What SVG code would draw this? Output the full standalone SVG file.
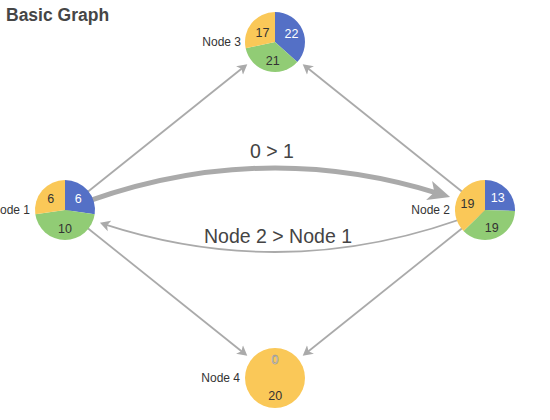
<svg xmlns="http://www.w3.org/2000/svg" width="550" height="420" viewBox="0 0 550 420">
<style>
  .title { font-family: "Liberation Sans", Arial, sans-serif; font-size: 17.5px; font-weight: bold; fill: #464646; }
  .nlabel { font-family: "Liberation Sans", Arial, sans-serif; font-size: 12px; fill: #333; text-anchor: end; }
  .plabel { font-family: "Liberation Sans", Arial, sans-serif; font-size: 12.5px; text-anchor: middle; }
  .dark { fill: #333; }
  .light { fill: #fff; }
  .elabel { font-family: "Liberation Sans", Arial, sans-serif; font-size: 19.5px; fill: #444; text-anchor: middle; }
  .edge { fill: none; stroke: #aaa; stroke-width: 1.8; }
  .edge-thick { fill: none; stroke: #aaa; stroke-width: 5; }
  .blue { fill: #5470c6; }
  .green { fill: #91cc75; }
  .yellow { fill: #fac858; }
</style>
<defs>
  <marker id="arrow" markerUnits="userSpaceOnUse" viewBox="0 -6 11 12" markerWidth="11" markerHeight="12" refX="5" refY="0" orient="auto">
    <path d="M10,0 L0,-5.5 L2.5,0 L0,5.5 Z" fill="#aaa"/>
  </marker>
  <marker id="arrow-big" markerUnits="userSpaceOnUse" viewBox="0 -11 23 22" markerWidth="23" markerHeight="22" refX="11" refY="0" orient="auto">
    <path d="M22,0 L0,-10 L5.5,0 L0,10 Z" fill="#aaa"/>
  </marker>
</defs>

<text class="title" x="6" y="21">Basic Graph</text>

<g id="edges">
  <path class="edge" d="M65,210 L243.4,67.3" marker-end="url(#arrow)"/>
  <path class="edge" d="M485,210 L306.6,67.3" marker-end="url(#arrow)"/>
  <path class="edge" d="M65,210 L243.4,352.7" marker-end="url(#arrow)"/>
  <path class="edge" d="M485,210 L306.6,352.7" marker-end="url(#arrow)"/>
  <path class="edge-thick" d="M65,210 Q252.3,135.1 439.6,193.8" marker-end="url(#arrow-big)"/>
  <path class="edge" d="M485,210 Q294.8,286.1 104.7,224.4" marker-end="url(#arrow)"/>
  <text class="elabel" x="272" y="158">0 &gt; 1</text>
  <text class="elabel" x="278" y="243">Node 2 &gt; Node 1</text>
</g>

<g id="node1">
  <path class="blue" d="M65,210 L65,180 A30,30 0 0 1 94.69,214.27 Z"/>
  <path class="green" d="M65,210 L94.69,214.27 A30,30 0 0 1 35.31,214.27 Z"/>
  <path class="yellow" d="M65,210 L35.31,214.27 A30,30 0 0 1 65,180 Z"/>
  <text class="plabel dark" x="50.8" y="203.3">6</text>
  <text class="plabel light" x="78.3" y="203.3">6</text>
  <text class="plabel dark" x="65" y="233.3">10</text>
  <text class="nlabel" x="30" y="214.3">Node 1</text>
</g>

<g id="node2">
  <path class="blue" d="M485,210 L485,180 A30,30 0 0 1 514.99,210.92 Z"/>
  <path class="green" d="M485,210 L514.99,210.92 A30,30 0 0 1 463.46,230.88 Z"/>
  <path class="yellow" d="M485,210 L463.46,230.88 A30,30 0 0 1 485,180 Z"/>
  <text class="plabel light" x="497.8" y="201.7">13</text>
  <text class="plabel dark" x="467.5" y="207.7">19</text>
  <text class="plabel dark" x="491.8" y="231.7">19</text>
  <text class="nlabel" x="450" y="214.3">Node 2</text>
</g>

<g id="node3">
  <path class="blue" d="M275,42 L275,12 A30,30 0 0 1 297.29,62.07 Z"/>
  <path class="green" d="M275,42 L297.29,62.07 A30,30 0 0 1 245.66,48.24 Z"/>
  <path class="yellow" d="M275,42 L245.66,48.24 A30,30 0 0 1 275,12 Z"/>
  <text class="plabel dark" x="262.5" y="36.7">17</text>
  <text class="plabel light" x="291.5" y="38.3">22</text>
  <text class="plabel dark" x="272.8" y="65">21</text>
  <text class="nlabel" x="241" y="46">Node 3</text>
</g>

<g id="node4">
  <circle class="yellow" cx="275" cy="378" r="30"/>
  <text class="plabel" x="275" y="363.5" fill="#fff" stroke="#8a8a8a" stroke-width="0.6">0</text>
  <text class="plabel dark" x="275.3" y="400">20</text>
  <text class="nlabel" x="240" y="382.3">Node 4</text>
</g>
</svg>
